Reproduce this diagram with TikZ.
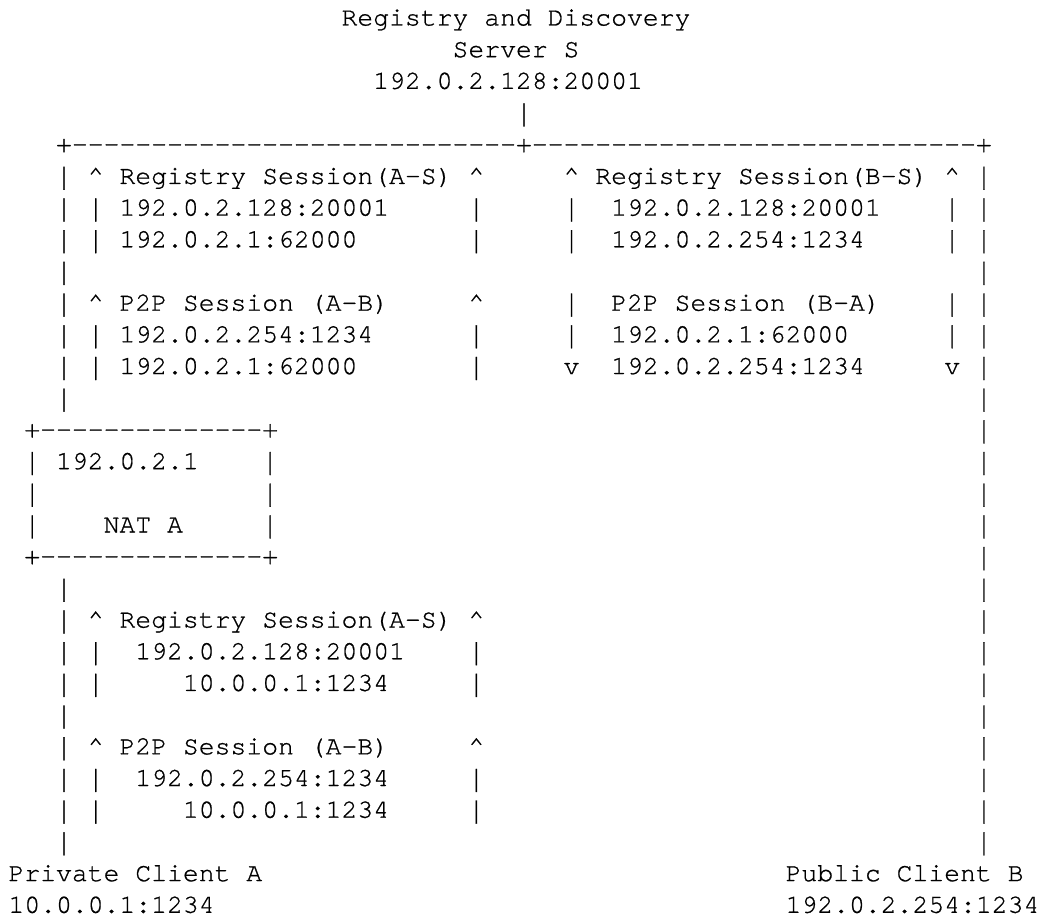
\documentclass[tikz,border=0pt]{standalone}
\usepackage{graphicx}
\usepackage{fontspec}
\newfontfamily\asciifont{texgyrecursor-regular.otf}[FakeBold=0.8]
\ExplSyntaxOn
\dim_const:Nn \c_asc_cell_dim {15.86pt}
\cs_new_protected:Npn \asc_bar:
  { \raisebox{-2pt}{\scalebox{1}[1.2]{|}} }
\cs_new_protected:Npn \asc_char:n #1
  {
    \hbox_to_wd:nn { \c_asc_cell_dim }
      {
        \hss
        \str_if_eq:nnTF {#1} {|} { \asc_bar: } { #1 }
        \hss
      }
  }
\cs_new_protected:Npn \asciistr #1
  {
    \str_map_inline:nn {#1} { \asc_char:n {##1} }
  }
\ExplSyntaxOff
\begin{document}
\begin{tikzpicture}[x=1pt,y=1pt,
  asc/.style={anchor=base west, inner sep=0pt, outer sep=0pt,
    font=\asciifont\bfseries\fontsize{26.4pt}{26.4pt}\selectfont}]
\fill[white] (0,0) rectangle (1042,918);
\useasboundingbox (0,0) rectangle (1042,918);
\newcommand\piece[4]{\node[asc] (#1) at ({8.5+#2*15.86},{892.5-(#3-1)*31.69}) {\asciistr{#4}};}
% server
\piece{r1}{21}{1}{Registry and Discovery}
\piece{r2}{28}{2}{Server S}
\piece{r3}{23}{3}{192.0.2.128:20001}
\piece{r4}{32}{4}{|}
\piece{r5}{3}{5}{+----------------------------+----------------------------+}
% upper sessions
\piece{r6a}{3}{6}{| ^ Registry Session(A-S) ^}
\piece{r6b}{35}{6}{^ Registry Session(B-S) ^ |}
\piece{r7a}{3}{7}{| | 192.0.2.128:20001}
\piece{r7b}{29}{7}{|}
\piece{r7c}{35}{7}{|}
\piece{r7d}{38}{7}{192.0.2.128:20001}
\piece{r7e}{59}{7}{| |}
\piece{r8a}{3}{8}{| | 192.0.2.1:62000}
\piece{r8b}{29}{8}{|}
\piece{r8c}{35}{8}{|}
\piece{r8d}{38}{8}{192.0.2.254:1234}
\piece{r8e}{59}{8}{| |}
\piece{r9a}{3}{9}{|}
\piece{r9b}{61}{9}{|}
\piece{r10a}{3}{10}{| ^ P2P Session (A-B)}
\piece{r10b}{29}{10}{^}
\piece{r10c}{35}{10}{|}
\piece{r10d}{38}{10}{P2P Session (B-A)}
\piece{r10e}{59}{10}{| |}
\piece{r11a}{3}{11}{| | 192.0.2.254:1234}
\piece{r11b}{29}{11}{|}
\piece{r11c}{35}{11}{|}
\piece{r11d}{38}{11}{192.0.2.1:62000}
\piece{r11e}{59}{11}{| |}
\piece{r12a}{3}{12}{| | 192.0.2.1:62000}
\piece{r12b}{29}{12}{|}
\piece{r12c}{35}{12}{v}
\piece{r12d}{38}{12}{192.0.2.254:1234}
\piece{r12e}{59}{12}{v |}
\piece{r13a}{3}{13}{|}
\piece{r13b}{61}{13}{|}
% NAT A
\piece{r14a}{1}{14}{+--------------+}
\piece{r14b}{61}{14}{|}
\piece{r15a}{1}{15}{| 192.0.2.1}
\piece{r15b}{16}{15}{|}
\piece{r15c}{61}{15}{|}
\piece{r16a}{1}{16}{|}
\piece{r16b}{16}{16}{|}
\piece{r16c}{61}{16}{|}
\piece{r17a}{1}{17}{|}
\piece{r17b}{6}{17}{NAT A}
\piece{r17c}{16}{17}{|}
\piece{r17d}{61}{17}{|}
\piece{r18a}{1}{18}{+--------------+}
\piece{r18b}{61}{18}{|}
% lower sessions
\piece{r19a}{3}{19}{|}
\piece{r19b}{61}{19}{|}
\piece{r20a}{3}{20}{| ^ Registry Session(A-S) ^}
\piece{r20b}{61}{20}{|}
\piece{r21a}{3}{21}{| |}
\piece{r21b}{8}{21}{192.0.2.128:20001}
\piece{r21c}{29}{21}{|}
\piece{r21d}{61}{21}{|}
\piece{r22a}{3}{22}{| |}
\piece{r22b}{11}{22}{10.0.0.1:1234}
\piece{r22c}{29}{22}{|}
\piece{r22d}{61}{22}{|}
\piece{r23a}{3}{23}{|}
\piece{r23b}{61}{23}{|}
\piece{r24a}{3}{24}{| ^ P2P Session (A-B)}
\piece{r24b}{29}{24}{^}
\piece{r24c}{61}{24}{|}
\piece{r25a}{3}{25}{| |}
\piece{r25b}{8}{25}{192.0.2.254:1234}
\piece{r25c}{29}{25}{|}
\piece{r25d}{61}{25}{|}
\piece{r26a}{3}{26}{| |}
\piece{r26b}{11}{26}{10.0.0.1:1234}
\piece{r26c}{29}{26}{|}
\piece{r26d}{61}{26}{|}
\piece{r27a}{3}{27}{|}
\piece{r27b}{61}{27}{|}
% clients
\piece{r28a}{0}{28}{Private Client A}
\piece{r28b}{49}{28}{Public Client B}
\piece{r29a}{0}{29}{10.0.0.1:1234}
\piece{r29b}{49}{29}{192.0.2.254:1234}
\end{tikzpicture}
\end{document}
